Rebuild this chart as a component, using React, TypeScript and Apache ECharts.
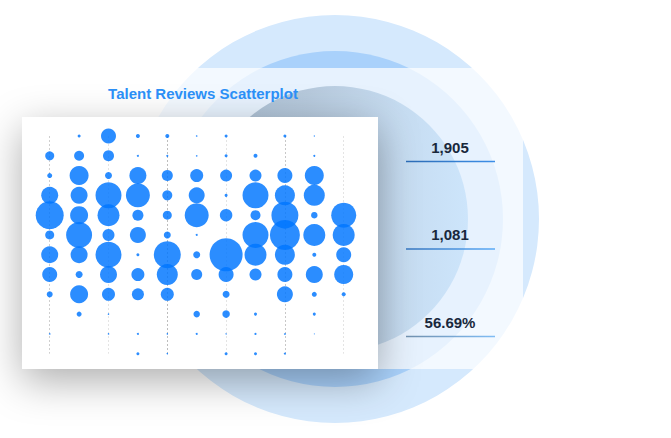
import React, { useEffect, useRef } from "react";
import * as echarts from "echarts";

// ---- data ----
const xCategories = ["G1", "G2", "G3", "G4", "G5", "G6", "G7", "G8", "G9", "G10", "G11"];
const yCategories = ["R1", "R2", "R3", "R4", "R5", "R6", "R7", "R8", "R9", "R10", "R11", "R12"];
// bubble sizes per column, top row first (0 = no bubble)
const col1 = [0, 9, 5, 17, 28, 9, 17, 15, 6, 0, 1.5, 0];
const col2 = [3, 10, 19, 17, 18, 26, 17, 7, 18, 5, 0, 0];
const col3 = [15, 11, 7, 26, 22, 12, 26, 17, 13, 1.5, 1.5, 0];
const col4 = [4, 2, 17, 24, 11, 16, 3, 13, 12, 0, 2, 3];
const col5 = [4, 2, 11, 10, 9, 7, 27, 21, 13, 0, 1.5, 1.5];
const col6 = [1.5, 1.5, 13, 16, 24, 2, 7, 11, 0, 6.5, 2, 0];
const col7 = [3, 3, 12, 3, 12.5, 0, 33, 15, 7, 7.5, 1.3, 3];
const col8 = [0, 4, 12, 26, 10, 26, 22, 12, 0, 3, 2, 3];
const col9 = [3, 0, 15, 20, 27, 30, 20, 15, 16, 0, 1.7, 2];
const col10 = [1.3, 2, 19, 21, 6.5, 22, 4, 17, 5, 3, 1, 0];
const col11 = [0, 0, 0, 0, 25, 22, 15, 19, 4, 0, 0, 0];
const columns = [col1, col2, col3, col4, col5, col6, col7, col8, col9, col10, col11];

const chartTitle = "Talent Reviews Scatterplot";
const statValues = ["1,905", "1,081", "56.69%"];

const splitColors = [
  "#cfcfcf", "#e4e4e4", "#bdbdbd", "#e4e4e4", "#c8c8c8", "#e4e4e4",
  "#e4e4e4", "#e4e4e4", "#dcdcdc", "#bdbdbd", "#e6e6e6",
];
const statLineColors = [
  ["#2c6bb4", "#3d8fe8"],
  ["#3373bd", "#5aaaf7"],
  ["#7190ad", "#80bdf5"],
];

export default function App() {
  const ref = useRef<HTMLDivElement>(null);

  useEffect(() => {
    if (!ref.current) return;
    const chart = echarts.init(ref.current, undefined, { renderer: "svg" });

    const data: number[][] = [];
    columns.forEach((col, i) => {
      col.forEach((v, j) => {
        if (v > 0) data.push([i, j, v]);
      });
    });

    const cx = 335;
    const cy = 219;
    const statEls: any[] = [];
    statValues.forEach((s, i) => {
      statEls.push({
        type: "text",
        z: 6,
        x: 450,
        y: 147 + i * 87.5,
        style: {
          text: s,
          fill: "#19283c",
          font: 'bold 15px "Liberation Sans", Arial, sans-serif',
          align: "center",
          verticalAlign: "middle",
          textAlign: "center",
          textVerticalAlign: "middle",
        },
      });
      statEls.push({
        type: "rect",
        z: 6,
        shape: { x: 406, y: 160.8 + i * 87.5, width: 89, height: 1.5 },
        style: {
          fill: {
            type: "linear",
            x: 0, y: 0, x2: 1, y2: 0,
            colorStops: [
              { offset: 0, color: statLineColors[i][0] },
              { offset: 1, color: statLineColors[i][1] },
            ],
          },
        },
      });
    });

    chart.setOption({
      animation: false,
      backgroundColor: "#ffffff",
      grid: { left: 49.7, top: 136, width: 294, height: 217.7 },
      xAxis: {
        type: "category",
        data: xCategories,
        boundaryGap: false,
        z: 5,
        axisLine: { show: false },
        axisTick: { show: false },
        axisLabel: { show: false },
        splitLine: {
          show: true,
          lineStyle: { color: splitColors, type: [2, 2], width: 1 },
        },
      },
      yAxis: {
        type: "category",
        data: yCategories,
        inverse: true,
        boundaryGap: false,
        axisLine: { show: false },
        axisTick: { show: false },
        axisLabel: { show: false },
        splitLine: { show: false },
      },
      graphic: [
        { type: "circle", z: 0, shape: { cx, cy, r: 204 }, style: { fill: "#d5e9fd" } },
        { type: "circle", z: 0, shape: { cx, cy, r: 168 }, style: { fill: "#a9d1fb" } },
        {
          type: "rect",
          z: 0,
          shape: { x: 150, y: 68, width: 373, height: 301 },
          style: { fill: "rgba(255,255,255,0.72)" },
        },
        {
          type: "circle",
          z: 0,
          shape: { cx, cy, r: 133 },
          style: {
            fill: {
              type: "linear",
              x: 0, y: 0, x2: 1, y2: 0,
              colorStops: [
                { offset: 0, color: "#a9bdd0" },
                { offset: 0.4, color: "#b6c9dc" },
                { offset: 0.75, color: "#c6dcf1" },
                { offset: 1, color: "#cde5fb" },
              ],
            },
          },
        },
        {
          type: "rect",
          z: 1,
          shape: { x: 22, y: 117, width: 356, height: 252 },
          style: {
            fill: "#ffffff",
            shadowBlur: 40,
            shadowColor: "rgba(0,0,0,0.32)",
            shadowOffsetX: 0,
            shadowOffsetY: 12,
          },
        },
        {
          type: "text",
          z: 6,
          x: 203,
          y: 93,
          style: {
            text: chartTitle,
            fill: "#2b8ff6",
            font: 'bold 15px "Liberation Sans", Arial, sans-serif',
            align: "center",
            verticalAlign: "middle",
            textAlign: "center",
            textVerticalAlign: "middle",
          },
        },
        ...statEls,
      ],
      series: [
        {
          type: "scatter",
          z: 10,
          data,
          symbol: "circle",
          symbolSize: (v: number[]) => v[2],
          itemStyle: { color: "rgba(0,118,255,0.83)", opacity: 1 },
        },
      ],
    });

    return () => chart.dispose();
  }, []);

  return (
    <div
      ref={ref}
      style={{ position: "absolute", left: 0, top: 0, width: 671, height: 438 }}
    />
  );
}
